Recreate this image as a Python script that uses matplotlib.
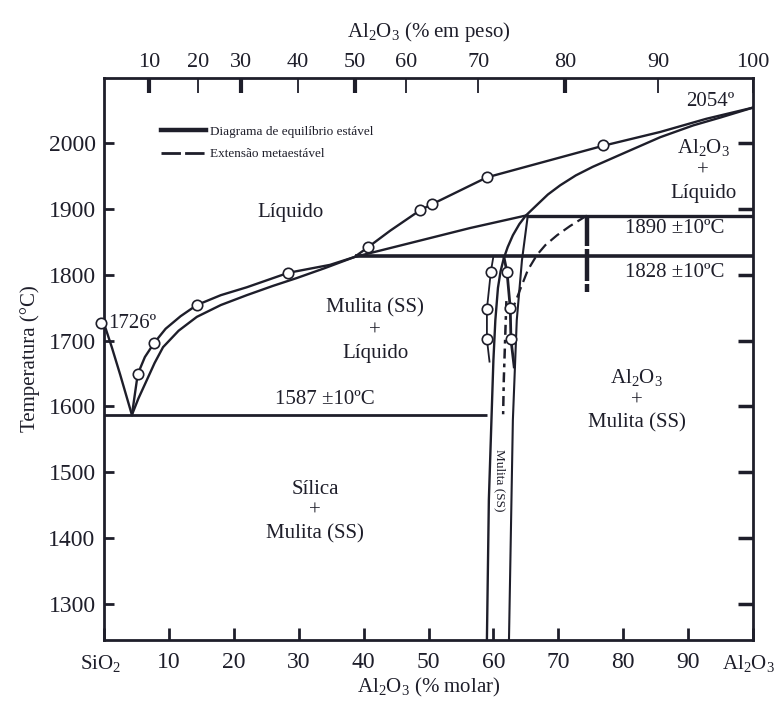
import numpy as np
import matplotlib
matplotlib.use("Agg")
from matplotlib import pyplot as plt
from matplotlib.lines import Line2D
from matplotlib.transforms import ScaledTranslation

plt.rcParams['font.family'] = ['Liberation Serif', 'DejaVu Serif']
plt.rcParams['mathtext.fontset'] = 'custom'
plt.rcParams['mathtext.rm'] = 'Liberation Serif'
plt.rcParams['mathtext.it'] = 'Liberation Serif:italic'

INK = '#1e1e2a'

# ---- phase boundaries, x = Al2O3 (% molar), y = temperature (C) ----
# silica liquidus, from the SiO2 melting point down to the eutectic
silica_liq_x = [0.0, 1.2, 2.5, 4.3]
silica_liq_t = [1726, 1690, 1648, 1587]

# measured liquidus (open circles along it)
liq_a_x = [4.3, 5.2, 6.3, 7.7, 9.5, 11.8, 14.3, 18.0, 22.0, 28.4, 34.8, 38.6, 40.7,
           44.1, 48.7, 50.5, 59.0, 68.7, 76.9, 85.7, 92.8, 100.0]
liq_a_t = [1587, 1649, 1675, 1696, 1718, 1737, 1754, 1769, 1781, 1803, 1815, 1827, 1842,
           1867, 1898, 1907, 1948, 1974, 1996, 2017, 2037, 2054]
liq_a_pts_x = [5.2, 7.7, 14.3, 28.4, 40.7, 48.7, 50.5, 59.0, 76.9]
liq_a_pts_t = [1649, 1696, 1754, 1803, 1842, 1898, 1907, 1948, 1997]

# mullite liquidus, eutectic to the 1890 peritectic
liq_b_x = [4.3, 5.3, 6.6, 7.8, 9.1, 11.5, 14.3, 18.0, 22.0, 26.0, 29.7, 34.0, 38.6,
           47.1, 56.4, 65.0]
liq_b_t = [1587, 1612, 1640, 1666, 1690, 1715, 1736, 1754, 1769, 1783, 1795, 1810, 1827,
           1848, 1871, 1890]

# corundum liquidus continuing into the silica-rich edge of mullite (SS)
liq_c_x = [100.0, 95.0, 90.8, 85.7, 80.6, 75.3, 72.7, 70.3, 68.4, 66.8, 65.0, 64.0,
           63.0, 62.2, 61.6, 61.1, 60.7, 60.3, 60.0, 59.8, 59.3, 59.0]
liq_c_t = [2054, 2039, 2027, 2009, 1987, 1964, 1951, 1936, 1922, 1907, 1890, 1877,
           1860, 1842, 1825, 1805, 1780, 1731, 1670, 1610, 1458, 1245]

# alumina-rich edge of mullite (SS)
mul_right_x = [65.3, 64.4, 63.6, 63.0, 62.4]
mul_right_t = [1890, 1822, 1731, 1579, 1245]

# measured solvus points inside the mullite field
mul_left_pts_x = [59.6, 59.0, 59.0]
mul_left_pts_t = [1804, 1748, 1702]
mul_left_line_x = [60.0, 59.6, 59.0, 59.0, 59.4]
mul_left_line_t = [1828, 1804, 1748, 1702, 1668]
mul_right_pts_x = [62.1, 62.6, 62.7]
mul_right_pts_t = [1804, 1749, 1702]
mul_right_line_x = [61.6, 62.1, 62.6, 62.7, 63.2]
mul_right_line_t = [1828, 1804, 1749, 1702, 1660]

# metastable extensions
meta_x = [74.4, 71.8, 69.8, 68.0, 66.7, 65.3, 64.1, 63.2]
meta_t = [1890, 1874, 1860, 1845, 1830, 1807, 1777, 1754]
meta_in_x = [62.0, 61.8, 61.6, 61.5]
meta_in_t = [1760, 1700, 1640, 1588]
meta_bar_x = 74.4
meta_bar_t = [(1890, 1843), (1839, 1790), (1786, 1774)]

# invariant lines
eutectic_t, eutectic_x = 1587, (0.0, 59.0)
iso_1828_t, iso_1828_x = 1828, (38.6, 100.0)
iso_1890_t, iso_1890_x = 1890, (65.0, 100.0)
sio2_melt = (0.0, 1726)

# axes
molar_ticks = list(range(0, 101, 10))
molar_labels = ['SiO$_2$', '10', '20', '30', '40', '50', '60', '70', '80', '90', 'Al$_2$O$_3$']
weight_pos = [7.0, 14.5, 21.1, 29.9, 38.7, 46.5, 57.7, 71.1, 85.4, 100.0]
weight_labels = ['10', '20', '30', '40', '50', '60', '70', '80', '90', '100']
weight_thick = [True, False, True, False, True, False, False, True, False, False]
temp_ticks = list(range(1300, 2001, 100))

fig = plt.figure(figsize=(7.76, 7.02), dpi=100)
ax = fig.add_axes([104 / 776, 1 - 640 / 702, (753 - 104) / 776, (640 - 78) / 702])
ax.set_xlim(0, 100)
ax.set_ylim(1245, 2099)

lw = 1.7
ax.plot(silica_liq_x, silica_liq_t, color=INK, lw=lw)
ax.plot(liq_a_x, liq_a_t, color=INK, lw=lw)
ax.plot(liq_b_x, liq_b_t, color=INK, lw=lw)
ax.plot(liq_c_x, liq_c_t, color=INK, lw=lw)
ax.plot(mul_right_x, mul_right_t, color=INK, lw=1.5)
ax.plot(mul_left_line_x, mul_left_line_t, color=INK, lw=1.3)
ax.plot(mul_right_line_x, mul_right_line_t, color=INK, lw=2.0)
ax.plot(meta_x, meta_t, color=INK, lw=1.6, dashes=(5, 2.5))
ax.plot(meta_in_x, meta_in_t, color=INK, lw=1.8, dashes=(4, 2, 1.5, 2))
for top_t, bot_t in meta_bar_t:
    ax.plot([meta_bar_x, meta_bar_x], [top_t, bot_t], color=INK, lw=3.2,
            solid_capstyle='butt')

ax.hlines(eutectic_t, *eutectic_x, color=INK, lw=2.0)
ax.hlines(iso_1828_t, *iso_1828_x, color=INK, lw=2.6)
ax.hlines(iso_1890_t, *iso_1890_x, color=INK, lw=2.4)

mk = dict(marker='o', ms=7.5, mfc='white', mec=INK, mew=1.2, ls='none', zorder=5)
ax.plot(liq_a_pts_x, liq_a_pts_t, **mk)
ax.plot(mul_left_pts_x, mul_left_pts_t, **mk)
ax.plot(mul_right_pts_x, mul_right_pts_t, **mk)
ax.plot([sio2_melt[0] - 0.4], [sio2_melt[1]], clip_on=False, **mk)

# field labels
fs = 15
txt = dict(color=INK, fontsize=fs, ha='center', va='center', linespacing=1.25)
ax.text(28.7, 1894, 'Líquido', **txt)
ax.text(41.8, 1715, 'Mulita (SS)\n+\nLíquido', **txt)
ax.text(34.1, 1610, '1587 ±10ºC', **txt)
ax.text(32.5, 1440, 'Sílica\n+\nMulita (SS)', **txt)
ax.text(82.1, 1610, 'Al$_2$O$_3$\n+\nMulita (SS)', **txt)
ax.text(92.3, 1959, 'Al$_2$O$_3$\n+\nLíquido', **txt)
ax.text(88.0, 1870, '1890 ±10ºC', **txt)
ax.text(88.0, 1803, '1828 ±10ºC', **txt)
ax.text(93.4, 2063, '2054º', **txt)
ax.text(0.6, 1726, '1726º', color=INK, fontsize=fs, ha='left', va='center')
ax.text(60.9, 1487, 'Mulita (SS)', color=INK, fontsize=9.5, rotation=270,
        ha='center', va='center')

handles = [Line2D([], [], color=INK, lw=3.2),
           Line2D([], [], color=INK, lw=2.0, dashes=(7, 1.5))]
ax.legend(handles, ['Diagrama de equilíbrio estável', 'Extensão metaestável'],
          loc='upper left', bbox_to_anchor=(0.07, 0.937), frameon=False,
          fontsize=9.5, handlelength=3.4, handletextpad=0.3, labelspacing=0.8,
          labelcolor=INK)

# axes, ticks and labels
for s in ax.spines.values():
    s.set_linewidth(2.0)
    s.set_color(INK)
ax.set_xticks(molar_ticks)
ax.set_xticklabels(molar_labels)
ax.set_yticks(temp_ticks)
ax.tick_params(axis='both', direction='in', labelsize=17, colors=INK, width=2.0)
ax.tick_params(axis='x', length=9, pad=9)
ax.tick_params(axis='y', length=7, pad=6, right=True)
for t in ax.yaxis.get_major_ticks():
    t.tick2line.set_markersize(11)
    t.tick2line.set_markeredgewidth(2.5)

# the two end labels carry subscripts and sit at the corners
end_labels = ax.get_xticklabels()
for lbl, dx in ((end_labels[0], -0.03), (end_labels[-1], -0.05)):
    lbl.set_fontsize(15)
    lbl.set_transform(lbl.get_transform() + ScaledTranslation(dx, 0, fig.dpi_scale_trans))
ax.set_xlabel('Al$_2$O$_3$ (% molar)', fontsize=fs, color=INK, labelpad=2)
ax.set_ylabel('Temperatura (°C)', fontsize=fs, color=INK, labelpad=6)

top = ax.twiny()
top.set_xlim(ax.get_xlim())
top.set_xticks(weight_pos)
top.set_xticklabels(weight_labels)
top.tick_params(axis='x', direction='in', length=11, labelsize=16, colors=INK, pad=4)
for t, thick in zip(top.xaxis.get_major_ticks(), weight_thick):
    t.tick2line.set_markeredgewidth(3.0 if thick else 1.3)
top.set_xlabel('Al$_2$O$_3$ (% em peso)', fontsize=fs, color=INK, labelpad=12)
for s in top.spines.values():
    s.set_visible(False)

fig.savefig('out.png', dpi=100)
